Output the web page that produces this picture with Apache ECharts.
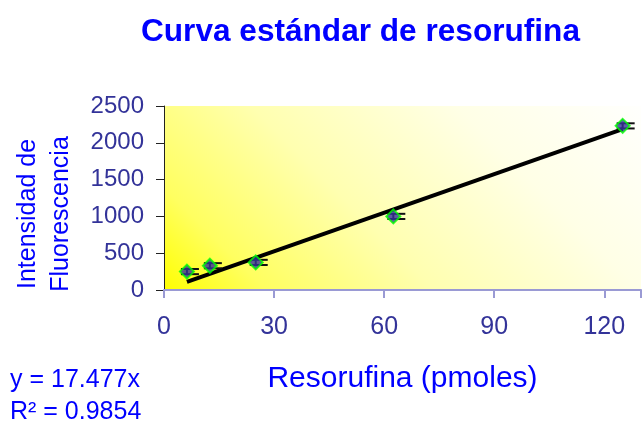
<!DOCTYPE html>
<html>
<head>
<meta charset="utf-8">
<script src="https://cdn.jsdelivr.net/npm/echarts@6/dist/echarts.min.js"></script>
<style>
  html, body { margin: 0; padding: 0; background: #ffffff; }
  #chart { width: 644px; height: 426px; }
</style>
</head>
<body>
<div id="chart"></div>
<script>
// resorufina (pmoles) vs intensidad de fluorescencia
const pmoles = [6.25, 12.5, 25, 62.5, 125];
const intensidad = [250, 330, 375, 1000, 2230];
const errores = [35, 35, 35, 35, 35];
const slope = 17.477;       // y = 17.477x
const r2 = 0.9854;
const trendX = [6.25, 125];
const xTicks = [0, 30, 60, 90, 120];
const yTicks = [0, 500, 1000, 1500, 2000, 2500];

const blue = '#0000ff';
const tickBlue = '#333399';
const font = 'Liberation Sans, Arial, sans-serif';

const points = pmoles.map((x, i) => [x, intensidad[i]]);
const errData = pmoles.map((x, i) => [x, intensidad[i] - errores[i], intensidad[i] + errores[i]]);
const trendData = trendX.map(x => [x, slope * x]);

const chart = echarts.init(document.getElementById('chart'));

// background of the plot area: yellow in the lower left corner fading to white
const plotFill = new echarts.graphic.LinearGradient(164, 290, 504, -50, [
    { offset: 0, color: '#ffff00' },
    { offset: 0.15, color: '#ffff60' },
    { offset: 0.4, color: '#ffffb0' },
    { offset: 0.7, color: '#ffffe6' },
    { offset: 1, color: '#ffffff' }
], true);

chart.setOption({
    animation: false,
    title: {
        text: 'Curva estándar de resorufina',
        left: 136,
        top: 11,
        textStyle: { color: blue, fontFamily: font, fontSize: 31.6, fontWeight: 'bold' }
    },
    grid: {
        left: 164, top: 106, right: 0, bottom: 136,
        show: true,
        borderWidth: 0,
        backgroundColor: plotFill
    },
    xAxis: {
        type: 'value',
        min: 0, max: 130, interval: 30,
        name: 'Resorufina (pmoles)',
        nameLocation: 'middle',
        nameGap: 74,
        nameTextStyle: { color: blue, fontFamily: font, fontSize: 30 },
        axisLine: { lineStyle: { color: '#9a9ad4', width: 2 } },
        axisTick: { length: 8, lineStyle: { color: '#9a9ad4', width: 2 } },
        axisLabel: {
            margin: 25, color: tickBlue, fontFamily: font, fontSize: 25,
            formatter: v => xTicks.includes(v) ? String(v) : ''
        },
        splitLine: { show: false }
    },
    yAxis: {
        type: 'value',
        min: yTicks[0], max: yTicks[yTicks.length - 1], interval: 500,
        axisLine: { show: true, lineStyle: { color: '#222222', width: 1 } },
        axisTick: { show: true, length: 8, lineStyle: { color: '#222222' } },
        axisLabel: {
            margin: 20, color: tickBlue, fontFamily: font, fontSize: 24,
            formatter: v => String(v)
        },
        splitLine: { show: false }
    },
    graphic: [
        {
            type: 'text', x: 28, y: 214, rotation: Math.PI / 2,
            style: { text: 'Intensidad de', fill: blue, font: '25px ' + font, align: 'center', verticalAlign: 'middle' }
        },
        {
            type: 'text', x: 61, y: 214, rotation: Math.PI / 2,
            style: { text: 'Fluorescencia', fill: blue, font: '25px ' + font, align: 'center', verticalAlign: 'middle' }
        },
        {
            type: 'text', left: 10, top: 368,
            style: { text: 'y = ' + slope + 'x', fill: blue, font: '25px ' + font }
        },
        {
            type: 'text', left: 10, top: 400,
            style: { text: 'R² = ' + r2, fill: blue, font: '25px ' + font }
        }
    ],
    series: [
        {
            type: 'line',
            data: trendData,
            symbol: 'none',
            lineStyle: { color: '#000000', width: 4 },
            z: 2
        },
        {
            type: 'custom',
            data: errData,
            renderItem: (params, api) => {
                const top = api.coord([api.value(0), api.value(2)]);
                const bot = api.coord([api.value(0), api.value(1)]);
                const style = { stroke: '#111111', lineWidth: 2 };
                return {
                    type: 'group',
                    children: [
                        { type: 'line', shape: { x1: top[0], y1: top[1], x2: bot[0], y2: bot[1] }, style },
                        { type: 'line', shape: { x1: top[0] - 6, y1: top[1], x2: top[0] + 12, y2: top[1] }, style },
                        { type: 'line', shape: { x1: bot[0] - 6, y1: bot[1], x2: bot[0] + 12, y2: bot[1] }, style }
                    ]
                };
            },
            z: 3
        },
        {
            type: 'scatter',
            data: points,
            symbol: 'diamond',
            symbolSize: 14,
            itemStyle: { color: '#333399', borderColor: '#00ff00', borderWidth: 2 },
            z: 4
        }
    ]
});
</script>
</body>
</html>
